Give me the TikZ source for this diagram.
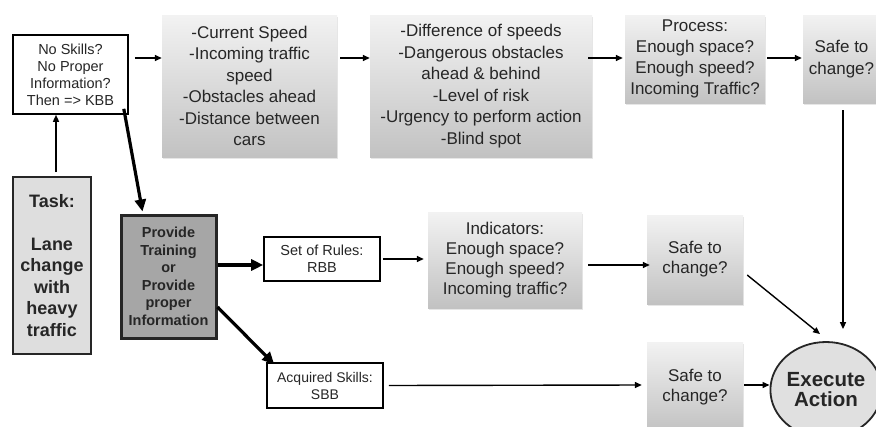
\documentclass[tikz,border=0pt]{standalone}
\usepackage{fontspec}
\setmainfont{Liberation Sans}
\usetikzlibrary{arrows.meta,shapes.geometric,shadows}
\begin{document}
\begin{tikzpicture}[x=1pt,y=-1pt,
  txt/.style={align=center, text=black!85, inner sep=0pt},
  grad/.style={txt, shade, top color=black!5, bottom color=black!24,
    drop shadow={shadow xshift=1pt,shadow yshift=-1.5pt,opacity=0.2},
    font=\fontsize{17}{21.5}\selectfont},
  plainbox/.style={txt, draw=black, line width=1.6pt, fill=white,
    font=\fontsize{14.5}{17}\selectfont},
  boldbox/.style={txt, font=\bfseries\fontsize{18}{21.5}\selectfont},
  conn/.style={line width=1.4pt, -{Triangle[length=7pt,width=6pt]}},
  thick conn/.style={line width=3.2pt, -{Triangle[length=12pt,width=11pt]}}
]
\useasboundingbox (0,0) rectangle (876,426);

% top row
\node[plainbox, minimum width=115pt, minimum height=79pt] (b1) at (70.5,74.5)
  {No Skills?\\No Proper\\Information?\\Then => KBB};
\node[grad, minimum width=175pt, minimum height=142pt] (b2) at (249.5,86)
  {-Current Speed\\-Incoming traffic\\speed\\-Obstacles ahead\\-Distance between\\cars};
\node[grad, minimum width=222pt, minimum height=142pt] (b3) at (481,86)
  {-Difference of speeds\\-Dangerous obstacles\\ahead \& behind\\-Level of risk\\-Urgency to perform action\\-Blind spot};
\node[grad, minimum width=140pt, minimum height=88pt, font=\fontsize{17}{21}\selectfont] (b4) at (695,59)
  {Process:\\Enough space?\\Enough speed?\\Incoming Traffic?};
\node[grad, minimum width=77pt, minimum height=88pt] (b5) at (841.5,59)
  {Safe to\\change?};

% left
\node[boldbox, draw=black!85, line width=1.8pt, fill=black!13, minimum width=78pt, minimum height=177pt] (task) at (52,265.5)
  {Task:\\[21.5pt]Lane\\change\\with\\heavy\\traffic};
\node[txt, draw=black!85, line width=3pt, fill=black!35, minimum width=95pt, minimum height=123pt,
  font=\bfseries\fontsize{14.5}{17.5}\selectfont] (prov) at (168.5,276.5)
  {Provide\\Training\\or\\Provide\\proper\\Information};

% middle row
\node[plainbox, minimum width=116pt, minimum height=44pt, font=\fontsize{14.5}{17}\selectfont] (rules) at (322,259)
  {Set of Rules:\\RBB};
\node[grad, minimum width=154pt, minimum height=96pt, font=\fontsize{17}{20}\selectfont] (ind) at (505,260)
  {Indicators:\\Enough space?\\Enough speed?\\Incoming traffic?};
\node[grad, minimum width=96pt, minimum height=89pt, font=\fontsize{17}{20}\selectfont] (safe2) at (695,259.5)
  {Safe to\\change?};

% bottom row
\node[plainbox, minimum width=116pt, minimum height=45pt, font=\fontsize{14}{17}\selectfont] (acq) at (325,385.5)
  {Acquired Skills:\\SBB};
\node[grad, minimum width=96pt, minimum height=90pt, font=\fontsize{17}{20}\selectfont] (safe3) at (695,387)
  {Safe to\\change?};
\node[txt, ellipse, draw=black!85, line width=1.8pt, fill=black!12, minimum width=98pt, minimum height=96pt,
  font=\bfseries\fontsize{20.5}{20}\selectfont] (exec) at (826,390)
  {Execute\\Action};

% connectors
\draw[conn] ([xshift=6pt,yshift=16.5pt]b1.east) -- ([yshift=28pt]b2.west);
\draw[conn] ([xshift=3pt,yshift=28pt]b2.east) -- ([yshift=28pt]b3.west);
\draw[conn] ([xshift=-4pt,yshift=28pt]b3.east) -- ([xshift=-2pt,yshift=1pt]b4.west);
\draw[conn] ([xshift=2pt,yshift=1pt]b4.east) -- ([xshift=-1pt,yshift=1pt]b5.west);
\draw[conn] ([xshift=1.5pt,yshift=-7pt]b5.south) -- ([xshift=17pt,yshift=12pt]exec.north);
\draw[conn] ([xshift=4pt,yshift=4pt]task.north) -- ([xshift=-14.5pt]b1.south);
\draw[thick conn] ([xshift=-5pt,yshift=6pt]b1.south east) -- ([xshift=23pt,yshift=2pt]prov.north west);
\draw[thick conn] ([yshift=11.5pt]prov.east) -- ([yshift=-6pt]rules.west);
\draw[thick conn] ([yshift=-30.5pt]prov.east) -- ([xshift=8pt,yshift=-2pt]acq.north west);
\draw[conn] ([xshift=2pt]rules.east) -- ([xshift=-4pt,yshift=1pt]ind.west);
\draw[conn] ([xshift=6pt,yshift=-5pt]ind.east) -- ([xshift=3pt,yshift=-5.5pt]safe2.west);
\draw[conn] ([xshift=4pt,yshift=-15.5pt]safe2.east) -- ([xshift=-6pt,yshift=7pt]exec.north);
\draw[conn] ([xshift=5pt]acq.east) -- ([xshift=-5pt,yshift=2pt]safe3.west);
\draw[conn] ([xshift=1pt,yshift=2pt]safe3.east) -- ([yshift=5pt]exec.west);
\end{tikzpicture}
\end{document}
